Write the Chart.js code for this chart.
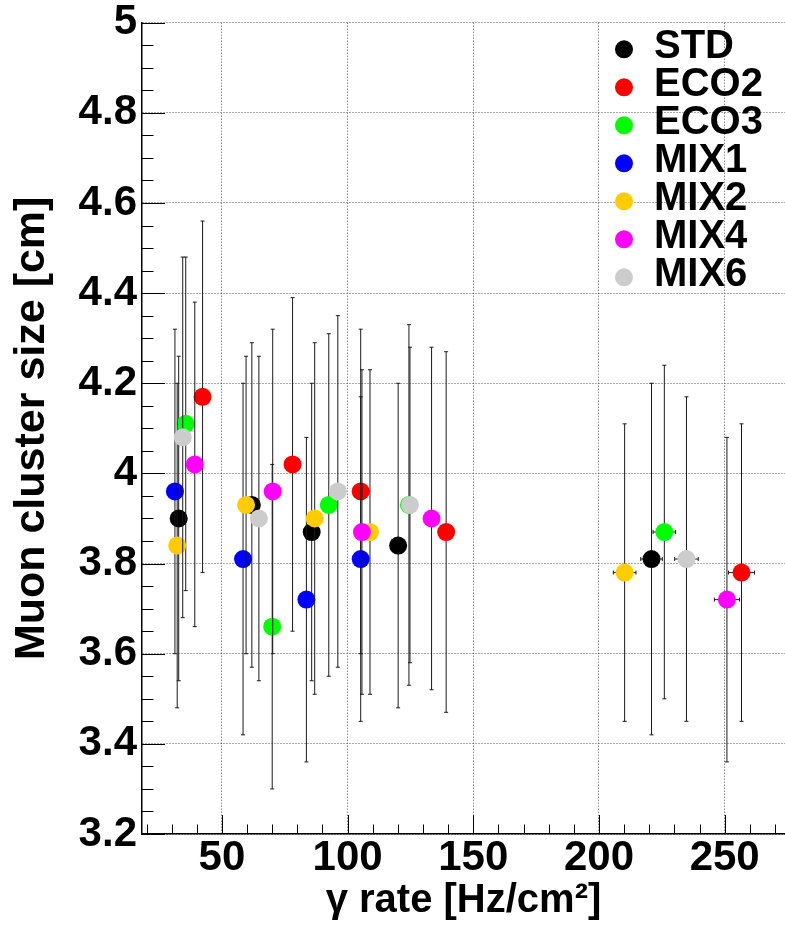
<!DOCTYPE html>
<html>
<head>
<meta charset="utf-8">
<script src="https://cdn.jsdelivr.net/npm/chart.js@4.4.1/dist/chart.umd.min.js"></script>
<style>
  html, body { margin: 0; padding: 0; background: #ffffff; }
  canvas { display: block; }
</style>
</head>
<body>
<canvas id="c" width="785" height="925"></canvas>
<script>
// ---------- data ----------
const categories = ['STD', 'ECO2', 'ECO3', 'MIX1', 'MIX2', 'MIX4', 'MIX6'];

const stdRate     = [32.8, 61.9, 85.7, 120.1, 220.9];
const stdSize     = [3.90, 3.93, 3.87, 3.84, 3.81];
const stdSizeErr  = [0.36, 0.36, 0.33, 0.36, 0.39];
const stdRateErr  = [0.7, 1.2, 1.7, 2.4, 4.3];

const eco2Rate    = [42.3, 78.1, 105.2, 139.2, 256.7];
const eco2Size    = [4.17, 4.02, 3.96, 3.87, 3.78];
const eco2SizeErr = [0.39, 0.37, 0.36, 0.40, 0.33];
const eco2RateErr = [0.8, 1.6, 2.1, 2.8, 5.2];

const eco3Rate    = [35.6, 70.0, 92.5, 124.4, 226.0];
const eco3Size    = [4.11, 3.66, 3.93, 3.93, 3.87];
const eco3SizeErr = [0.37, 0.36, 0.38, 0.40, 0.37];
const eco3RateErr = [0.7, 1.4, 1.9, 2.5, 4.5];

const mix1Rate    = [31.3, 58.4, 83.6, 105.2];
const mix1Size    = [3.96, 3.81, 3.72, 3.81];
const mix1SizeErr = [0.36, 0.39, 0.36, 0.36];
const mix1RateErr = [0.6, 1.2, 1.7, 2.1];

const mix2Rate    = [32.2, 59.6, 86.9, 108.9, 210.2];
const mix2Size    = [3.84, 3.93, 3.90, 3.87, 3.78];
const mix2SizeErr = [0.36, 0.33, 0.39, 0.36, 0.33];
const mix2RateErr = [0.6, 1.2, 1.7, 2.2, 4.5];

const mix4Rate    = [39.2, 70.2, 105.7, 133.4, 250.9];
const mix4Size    = [4.02, 3.96, 3.87, 3.90, 3.72];
const mix4SizeErr = [0.36, 0.36, 0.36, 0.38, 0.36];
const mix4RateErr = [0.8, 1.4, 2.1, 2.7, 5.0];

const mix6Rate    = [34.4, 64.7, 96.1, 124.8, 234.8];
const mix6Size    = [4.08, 3.90, 3.96, 3.93, 3.81];
const mix6SizeErr = [0.40, 0.36, 0.39, 0.35, 0.36];
const mix6RateErr = [0.7, 1.3, 1.9, 2.5, 4.7];

const xTickValues = [50, 100, 150, 200, 250];
const xTickLabels = ['50', '100', '150', '200', '250'];
const yTickValues = [3.2, 3.4, 3.6, 3.8, 4.0, 4.2, 4.4, 4.6, 4.8, 5.0];
const yTickLabels = ['3.2', '3.4', '3.6', '3.8', '4', '4.2', '4.4', '4.6', '4.8', '5'];

const xTitle = 'γ rate [Hz/cm²]';
const yTitle = 'Muon cluster size [cm]';

// ---------- styles ----------
const seriesColors = ['#000000', '#ff0000', '#00ff00', '#0000ff', '#ffcc00', '#ff00ff', '#cccccc'];
const FONT = 'Liberation Sans, Arial, Helvetica, sans-serif';

const seriesTable = [
  [stdRate, stdSize, stdSizeErr, stdRateErr],
  [eco2Rate, eco2Size, eco2SizeErr, eco2RateErr],
  [eco3Rate, eco3Size, eco3SizeErr, eco3RateErr],
  [mix1Rate, mix1Size, mix1SizeErr, mix1RateErr],
  [mix2Rate, mix2Size, mix2SizeErr, mix2RateErr],
  [mix4Rate, mix4Size, mix4SizeErr, mix4RateErr],
  [mix6Rate, mix6Size, mix6SizeErr, mix6RateErr]
];

const datasets = seriesTable.map((s, k) => ({
  label: categories[k],
  data: s[0].map((r, i) => ({ x: r, y: s[1][i], ey: s[2][i], ex: s[3][i] })),
  backgroundColor: seriesColors[k],
  borderColor: seriesColors[k],
  pointRadius: 9,
  pointHoverRadius: 9,
  pointBorderWidth: 0,
  showLine: false,
  order: categories.length - 1 - k   // later series drawn on top
}));

// ---------- plugins ----------
const whiteBg = {
  id: 'whiteBg',
  beforeDraw(chart) {
    const ctx = chart.ctx;
    ctx.save();
    ctx.fillStyle = '#ffffff';
    ctx.fillRect(0, 0, chart.width, chart.height);
    ctx.restore();
  }
};

const innerTicks = {
  id: 'innerTicks',
  beforeDatasetsDraw(chart) {
    const { ctx, chartArea, scales } = chart;
    const xs = scales.x, ys = scales.y;
    ctx.save();
    ctx.strokeStyle = '#000';
    ctx.lineWidth = 1;
    ctx.beginPath();
    for (let v = 20; v <= xs.max; v += 10) {
      const px = Math.round(xs.getPixelForValue(v)) + 0.5;
      const len = (v % 50 === 0) ? 19 : 9.5;
      ctx.moveTo(px, chartArea.bottom);
      ctx.lineTo(px, chartArea.bottom - len);
    }
    for (let n = 0; n <= 36; n++) {
      const v = 3.2 + n * 0.05;
      const py = Math.round(ys.getPixelForValue(v)) + 0.5;
      const len = (n % 4 === 0) ? 23 : 11.5;
      ctx.moveTo(chartArea.left, py);
      ctx.lineTo(chartArea.left + len, py);
    }
    ctx.stroke();
    ctx.restore();
  }
};

const errorBars = {
  id: 'errorBars',
  beforeDatasetDraw(chart, args) {
    const ds = chart.data.datasets[args.index];
    const xs = chart.scales.x, ys = chart.scales.y;
    const ctx = chart.ctx;
    ctx.save();
    ctx.strokeStyle = '#1a1a1a';
    ctx.lineWidth = 1;
    ds.data.forEach(p => {
      const px = xs.getPixelForValue(p.x);
      const py = ys.getPixelForValue(p.y);
      const y1 = ys.getPixelForValue(p.y + p.ey);
      const y2 = ys.getPixelForValue(p.y - p.ey);
      const x1 = xs.getPixelForValue(p.x - p.ex);
      const x2 = xs.getPixelForValue(p.x + p.ex);
      ctx.beginPath();
      ctx.moveTo(px, y1); ctx.lineTo(px, y2);
      ctx.moveTo(px - 2, y1); ctx.lineTo(px + 2, y1);
      ctx.moveTo(px - 2, y2); ctx.lineTo(px + 2, y2);
      ctx.moveTo(x1, py); ctx.lineTo(x2, py);
      ctx.moveTo(x1, py - 2); ctx.lineTo(x1, py + 2);
      ctx.moveTo(x2, py - 2); ctx.lineTo(x2, py + 2);
      ctx.stroke();
    });
    ctx.restore();
  }
};

const insideLegend = {
  id: 'insideLegend',
  afterDatasetsDraw(chart) {
    const { ctx, chartArea } = chart;
    const mx = chartArea.right - 161;
    const tx = chartArea.right - 131;
    const y0 = chartArea.top + 26.6;
    const step = 38;
    ctx.save();
    ctx.font = 'bold 40px ' + FONT;
    ctx.textAlign = 'left';
    ctx.textBaseline = 'alphabetic';
    chart.data.datasets.forEach((ds, i) => {
      const cy = y0 + i * step;
      ctx.fillStyle = ds.backgroundColor;
      ctx.beginPath();
      ctx.arc(mx, cy, 9, 0, Math.PI * 2);
      ctx.fill();
      ctx.fillStyle = '#000';
      ctx.fillText(ds.label, tx, cy + 9);
    });
    ctx.restore();
  }
};

// ---------- chart ----------
new Chart(document.getElementById('c'), {
  type: 'scatter',
  data: { datasets },
  options: {
    responsive: false,
    animation: false,
    devicePixelRatio: 1,
    layout: { autoPadding: false, padding: { top: 22.7, right: 0, bottom: 0, left: 0 } },
    plugins: {
      legend: { display: false },
      tooltip: { enabled: false }
    },
    scales: {
      x: {
        type: 'linear',
        position: 'bottom',
        min: 18.2,
        max: 274.0,
        afterFit: (s) => { s.height = 91; s.paddingLeft = 0; s.paddingRight = 0; },
        afterBuildTicks: (s) => { s.ticks = xTickValues.map(v => ({ value: v })); },
        grid: { color: '#555', lineWidth: 1, drawTicks: false },
        border: { display: true, color: '#000', width: 1.5, dash: [1, 2] },
        ticks: {
          color: '#000',
          padding: 3,
          maxRotation: 0,
          font: { family: FONT, size: 42, weight: 'bold', lineHeight: 1 },
          callback: (v, i) => xTickLabels[i]
        },
        title: {
          display: true,
          text: xTitle,
          color: '#000',
          font: { family: FONT, size: 40, weight: 'bold', lineHeight: 1 },
          padding: { top: 0, bottom: 4 }
        }
      },
      y: {
        type: 'linear',
        min: 3.2,
        max: 5.0,
        afterFit: (s) => { s.width = 142; s.paddingTop = 0; s.paddingBottom = 0; },
        afterBuildTicks: (s) => { s.ticks = yTickValues.map(v => ({ value: v })); },
        grid: { color: '#555', lineWidth: 1, drawTicks: false },
        border: { display: true, color: '#000', width: 1.5, dash: [1, 2] },
        ticks: {
          color: '#000',
          padding: 5,
          font: { family: FONT, size: 42, weight: 'bold', lineHeight: 1 },
          callback: (v, i) => yTickLabels[i]
        },
        title: {
          display: true,
          text: yTitle,
          color: '#000',
          font: { family: FONT, size: 43, weight: 'bold', lineHeight: 1 },
          padding: { top: 11, bottom: 0 }
        }
      }
    }
  },
  plugins: [whiteBg, innerTicks, errorBars, insideLegend]
});
</script>
</body>
</html>
